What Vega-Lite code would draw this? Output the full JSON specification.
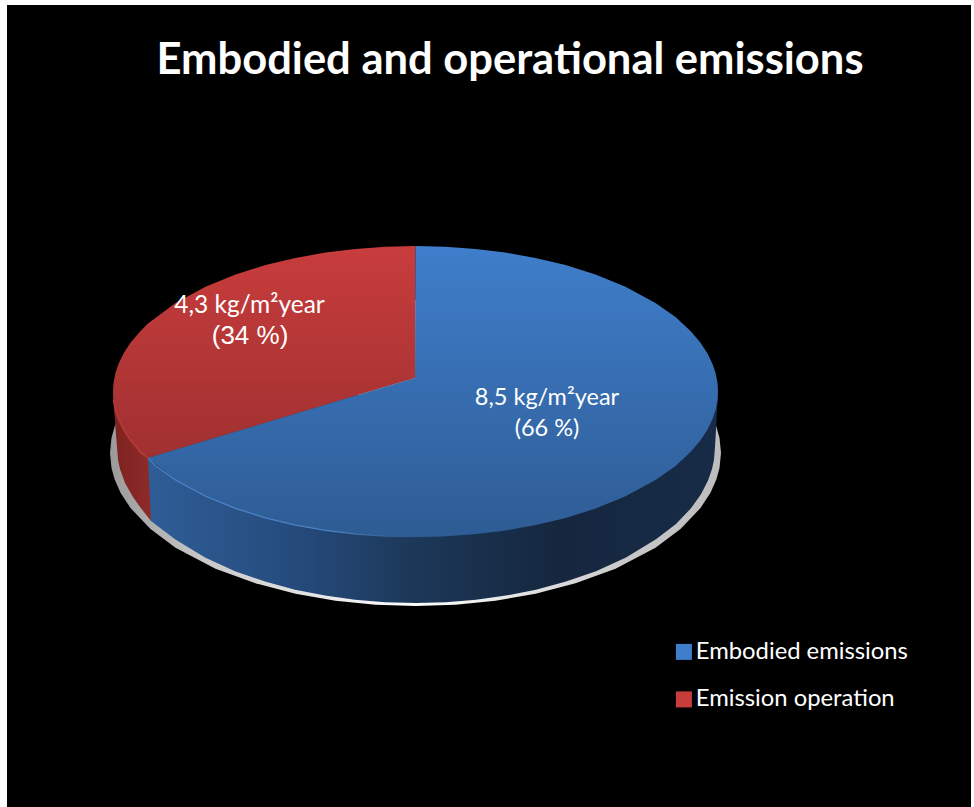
{
"$schema":"https://vega.github.io/schema/vega-lite/v6.json",
"width":974,"height":807,"padding":0,"autosize":"none","background":"#ffffff",
"title":{"text":"Embodied and operational emissions","font":"Lato","fontWeight":"bold","fontSize":43.5,"color":"#ffffff","anchor":"middle","dx":23,"offset":-83},
"view":{"stroke":null},
"encoding":{"x":{"field":"x","type":"quantitative","scale":{"domain":[0,974]},"axis":null}},
"layer":[
{"data":{"values":[{"x":7,"x2":971,"top":5,"bottom":807}]},
 "mark":{"type":"rect","fill":"#000000"},
 "encoding":{"x2":{"field":"x2"},"y":{"field":"top","type":"quantitative","scale":{"domain":[807,0]},"axis":null},"y2":{"field":"bottom"}}},
{"data":{"values":[
{"x":110,"top":453,"bottom":453},{"x":111.5,"top":437.9,"bottom":468.1},{"x":114.5,"top":426.9,"bottom":479.1},{"x":120.5,"top":413.2,"bottom":492.8},{"x":130.5,"top":397.9,"bottom":508.1},{"x":150.5,"top":376.9,"bottom":529.1},{"x":175.5,"top":358.3,"bottom":547.7},{"x":215.5,"top":337.3,"bottom":568.7},{"x":255.5,"top":322.7,"bottom":583.3},{"x":295.5,"top":312.3,"bottom":593.7},{"x":335.5,"top":305.3,"bottom":600.7},{"x":375.5,"top":301.3,"bottom":604.7},{"x":415.5,"top":300,"bottom":606},{"x":455.5,"top":301.3,"bottom":604.7},{"x":495.5,"top":305.3,"bottom":600.7},{"x":535.5,"top":312.3,"bottom":593.7},{"x":575.5,"top":322.7,"bottom":583.3},{"x":615.5,"top":337.3,"bottom":568.7},{"x":655.5,"top":358.3,"bottom":547.7},{"x":680.5,"top":376.9,"bottom":529.1},{"x":700.5,"top":397.9,"bottom":508.1},{"x":710.5,"top":413.2,"bottom":492.8},{"x":716.5,"top":426.9,"bottom":479.1},{"x":719.5,"top":437.9,"bottom":468.1},{"x":721,"top":453,"bottom":453}]},
 "mark":{"type":"area","fill":{"gradient":"linear","x1":0,"y1":0,"x2":1,"y2":0,"stops":[{"offset":0,"color":"#9a9a9a"},{"offset":0.15,"color":"#c8c8c8"},{"offset":0.5,"color":"#ffffff"},{"offset":0.85,"color":"#c8c8c8"},{"offset":1,"color":"#bdbdbd"}]}},
 "encoding":{"y":{"field":"top","type":"quantitative","scale":{"domain":[807,0]},"axis":null},"y2":{"field":"bottom"}}},
{"data":{"values":[
{"x":113,"top":393,"bottom":393},{"x":114,"top":391,"bottom":410},{"x":115,"top":391,"bottom":420},{"x":116,"top":391,"bottom":435},{"x":117,"top":391,"bottom":447},{"x":118,"top":391,"bottom":460},{"x":120,"top":391,"bottom":469},{"x":125,"top":391,"bottom":483},{"x":133,"top":391,"bottom":497},{"x":140,"top":391,"bottom":507},{"x":151,"top":391,"bottom":521}]},
 "mark":{"type":"area","fill":{"gradient":"linear","x1":0,"y1":0,"x2":1,"y2":0,"stops":[{"offset":0,"color":"#7c2220"},{"offset":1,"color":"#8f2b29"}]}},
 "encoding":{"y":{"field":"top","type":"quantitative","scale":{"domain":[807,0]},"axis":null},"y2":{"field":"bottom"}}},
{"data":{"values":[
{"x":148,"top":458,"bottom":458},{"x":151,"top":395,"bottom":521},{"x":175,"top":395,"bottom":539.3},{"x":205,"top":395,"bottom":557.5},{"x":235,"top":395,"bottom":571.2},{"x":265,"top":395,"bottom":581.6},{"x":295,"top":395,"bottom":589.7},{"x":325,"top":395,"bottom":595.6},{"x":355,"top":395,"bottom":599.7},{"x":385,"top":395,"bottom":602.2},{"x":416,"top":395,"bottom":603},{"x":446,"top":395,"bottom":602.2},{"x":476,"top":395,"bottom":599.7},{"x":506,"top":395,"bottom":595.6},{"x":536,"top":395,"bottom":589.7},{"x":566,"top":395,"bottom":581.6},{"x":596,"top":395,"bottom":571.2},{"x":626,"top":395,"bottom":557.5},{"x":656,"top":395,"bottom":539.3},{"x":676,"top":395,"bottom":524},{"x":691,"top":395,"bottom":508.2},{"x":701,"top":395,"bottom":494.2},{"x":708,"top":395,"bottom":480.6},{"x":712,"top":395,"bottom":469},{"x":714,"top":395,"bottom":459.7},{"x":715,"top":395,"bottom":447},{"x":716,"top":395,"bottom":430},{"x":717,"top":395,"bottom":412},{"x":718,"top":395,"bottom":395}]},
 "mark":{"type":"area","fill":{"gradient":"linear","x1":0,"y1":0,"x2":1,"y2":0,"stops":[{"offset":0,"color":"#2f5d97"},{"offset":0.26,"color":"#254b7c"},{"offset":0.475,"color":"#1c3757"},{"offset":0.72,"color":"#15273f"},{"offset":1,"color":"#182b47"}]}},
 "encoding":{"y":{"field":"top","type":"quantitative","scale":{"domain":[807,0]},"axis":null},"y2":{"field":"bottom"}}},
{"data":{"values":[
{"part":"Emission operation","x":113,"top":391.5,"bottom":391.5},{"part":"Emission operation","x":113.5,"top":383.1,"bottom":399.9},{"part":"Emission operation","x":115.5,"top":372.8,"bottom":410.2},{"part":"Emission operation","x":118.5,"top":363.9,"bottom":419.1},{"part":"Emission operation","x":123.5,"top":353.5,"bottom":429.5},{"part":"Emission operation","x":130.5,"top":342.7,"bottom":440.3},{"part":"Emission operation","x":140.5,"top":330.9,"bottom":452.1},{"part":"Emission operation","x":148,"top":323.6,"bottom":458},{"part":"Emission operation","x":175.5,"top":302.9,"bottom":449.8},{"part":"Emission operation","x":205.5,"top":286.8,"bottom":440.8},{"part":"Emission operation","x":235.5,"top":274.6,"bottom":431.8},{"part":"Emission operation","x":265.5,"top":265.1,"bottom":422.8},{"part":"Emission operation","x":295.5,"top":257.9,"bottom":413.8},{"part":"Emission operation","x":325.5,"top":252.6,"bottom":404.8},{"part":"Emission operation","x":355.5,"top":248.9,"bottom":395.8},{"part":"Emission operation","x":385.5,"top":246.7,"bottom":386.8},{"part":"Emission operation","x":415.5,"top":246,"bottom":378}]},
 "mark":{"type":"area"},
 "encoding":{"y":{"field":"top","type":"quantitative","scale":{"domain":[807,0]},"axis":null},"y2":{"field":"bottom"},
  "color":{"field":"part","type":"nominal","scale":{"domain":["Embodied emissions","Emission operation"],"range":["#3f7ecb","#c83c3c"]},
   "legend":{"title":null,"orient":"none","legendX":672,"legendY":640,"symbolType":"square","symbolSize":256,"symbolStrokeWidth":0,"labelFont":"Lato","labelFontSize":23.8,"labelColor":"#ffffff","labelOffset":0,"labelLimit":400,"rowPadding":22.5,"padding":0}}}},
{"data":{"values":[
{"part":"Embodied emissions","x":148,"top":458,"bottom":458},{"part":"Embodied emissions","x":175.5,"top":449.8,"bottom":480.1},{"part":"Embodied emissions","x":205.5,"top":440.8,"bottom":496.2},{"part":"Embodied emissions","x":235.5,"top":431.8,"bottom":508.4},{"part":"Embodied emissions","x":265.5,"top":422.8,"bottom":517.9},{"part":"Embodied emissions","x":295.5,"top":413.8,"bottom":525.1},{"part":"Embodied emissions","x":325.5,"top":404.8,"bottom":530.4},{"part":"Embodied emissions","x":355.5,"top":395.8,"bottom":534.1},{"part":"Embodied emissions","x":385.5,"top":386.8,"bottom":536.3},{"part":"Embodied emissions","x":415,"top":378,"bottom":537},{"part":"Embodied emissions","x":415.5,"top":246,"bottom":537},{"part":"Embodied emissions","x":445.5,"top":246.7,"bottom":536.3},{"part":"Embodied emissions","x":475.5,"top":248.9,"bottom":534.1},{"part":"Embodied emissions","x":505.5,"top":252.6,"bottom":530.4},{"part":"Embodied emissions","x":535.5,"top":257.9,"bottom":525.1},{"part":"Embodied emissions","x":565.5,"top":265.1,"bottom":517.9},{"part":"Embodied emissions","x":595.5,"top":274.6,"bottom":508.4},{"part":"Embodied emissions","x":625.5,"top":286.8,"bottom":496.2},{"part":"Embodied emissions","x":655.5,"top":302.9,"bottom":480.1},{"part":"Embodied emissions","x":675.5,"top":317.1,"bottom":465.9},{"part":"Embodied emissions","x":690.5,"top":330.9,"bottom":452.1},{"part":"Embodied emissions","x":700.5,"top":342.7,"bottom":440.3},{"part":"Embodied emissions","x":707.5,"top":353.5,"bottom":429.5},{"part":"Embodied emissions","x":712.5,"top":363.9,"bottom":419.1},{"part":"Embodied emissions","x":715.5,"top":372.8,"bottom":410.2},{"part":"Embodied emissions","x":717.5,"top":383.1,"bottom":399.9},{"part":"Embodied emissions","x":718,"top":391.5,"bottom":391.5}]},
 "mark":{"type":"area"},
 "encoding":{"y":{"field":"top","type":"quantitative","scale":{"domain":[807,0]},"axis":null},"y2":{"field":"bottom"},
  "color":{"field":"part","type":"nominal","scale":{"domain":["Embodied emissions","Emission operation"],"range":["#3f7ecb","#c83c3c"]}}}},
{"data":{"values":[
{"x":113,"top":391.5,"bottom":391.5},{"x":113.5,"top":383.1,"bottom":399.9},{"x":115.5,"top":372.8,"bottom":410.2},{"x":118.5,"top":363.9,"bottom":419.1},{"x":123.5,"top":353.5,"bottom":429.5},{"x":130.5,"top":342.7,"bottom":440.3},{"x":140.5,"top":330.9,"bottom":452.1},{"x":155.5,"top":317.1,"bottom":465.9},{"x":175.5,"top":302.9,"bottom":480.1},{"x":205.5,"top":286.8,"bottom":496.2},{"x":235.5,"top":274.6,"bottom":508.4},{"x":265.5,"top":265.1,"bottom":517.9},{"x":295.5,"top":257.9,"bottom":525.1},{"x":325.5,"top":252.6,"bottom":530.4},{"x":355.5,"top":248.9,"bottom":534.1},{"x":385.5,"top":246.7,"bottom":536.3},{"x":415.5,"top":246,"bottom":537},{"x":445.5,"top":246.7,"bottom":536.3},{"x":475.5,"top":248.9,"bottom":534.1},{"x":505.5,"top":252.6,"bottom":530.4},{"x":535.5,"top":257.9,"bottom":525.1},{"x":565.5,"top":265.1,"bottom":517.9},{"x":595.5,"top":274.6,"bottom":508.4},{"x":625.5,"top":286.8,"bottom":496.2},{"x":655.5,"top":302.9,"bottom":480.1},{"x":675.5,"top":317.1,"bottom":465.9},{"x":690.5,"top":330.9,"bottom":452.1},{"x":700.5,"top":342.7,"bottom":440.3},{"x":707.5,"top":353.5,"bottom":429.5},{"x":712.5,"top":363.9,"bottom":419.1},{"x":715.5,"top":372.8,"bottom":410.2},{"x":717.5,"top":383.1,"bottom":399.9},{"x":718,"top":391.5,"bottom":391.5}]},
 "mark":{"type":"area","fill":{"gradient":"linear","x1":0,"y1":0,"x2":0,"y2":1,"stops":[{"offset":0,"color":"rgba(0,0,0,0)"},{"offset":1,"color":"rgba(0,0,0,0.27)"}]}},
 "encoding":{"y":{"field":"top","type":"quantitative","scale":{"domain":[807,0]},"axis":null},"y2":{"field":"bottom"}}},
{"data":{"values":[
{"x":148,"y":458},{"x":155.5,"y":465.9},{"x":175.5,"y":480.1},{"x":205.5,"y":496.2},{"x":235.5,"y":508.4},{"x":265.5,"y":517.9},{"x":295.5,"y":525.1},{"x":325.5,"y":530.4},{"x":355.5,"y":534.1},{"x":385.5,"y":536.3},{"x":415.5,"y":537}]},
 "mark":{"type":"line","strokeWidth":1.2,"stroke":{"gradient":"linear","x1":0,"y1":0,"x2":1,"y2":0,"stops":[{"offset":0,"color":"rgba(85,145,215,0.75)"},{"offset":0.7,"color":"rgba(85,145,215,0.75)"},{"offset":1,"color":"rgba(85,145,215,0)"}]}},
 "encoding":{"y":{"field":"y","type":"quantitative","scale":{"domain":[807,0]},"axis":null}}},
{"data":{"values":[
{"x":113.5,"y":399.9},{"x":115.5,"y":410.2},{"x":118.5,"y":419.1},{"x":123.5,"y":429.5},{"x":130.5,"y":440.3},{"x":140.5,"y":452.1},{"x":148,"y":458}]},
 "mark":{"type":"line","strokeWidth":1.5,"stroke":"#b93a38"},
 "encoding":{"y":{"field":"y","type":"quantitative","scale":{"domain":[807,0]},"axis":null}}},
{"data":{"values":[
{"label":"8,5 kg/m²year","x":547,"y":398},{"label":"(66 %)","x":547,"y":429}]},
 "mark":{"type":"text","font":"Lato","fontSize":23.5,"fill":"#ffffff","align":"center","baseline":"middle"},
 "encoding":{"y":{"field":"y","type":"quantitative","scale":{"domain":[807,0]},"axis":null},"text":{"field":"label"}}},
{"data":{"values":[{"label":"4,3 kg/m²year","x":249.5,"y":306}]},
 "mark":{"type":"text","font":"Lato","fontSize":24.5,"fill":"#ffffff","align":"center","baseline":"middle"},
 "encoding":{"y":{"field":"y","type":"quantitative","scale":{"domain":[807,0]},"axis":null},"text":{"field":"label"}}},
{"data":{"values":[{"label":"(34 %)","x":250,"y":336}]},
 "mark":{"type":"text","font":"Liberation Sans","fontSize":26,"fill":"#ffffff","align":"center","baseline":"middle"},
 "encoding":{"y":{"field":"y","type":"quantitative","scale":{"domain":[807,0]},"axis":null},"text":{"field":"label"}}}
]}
